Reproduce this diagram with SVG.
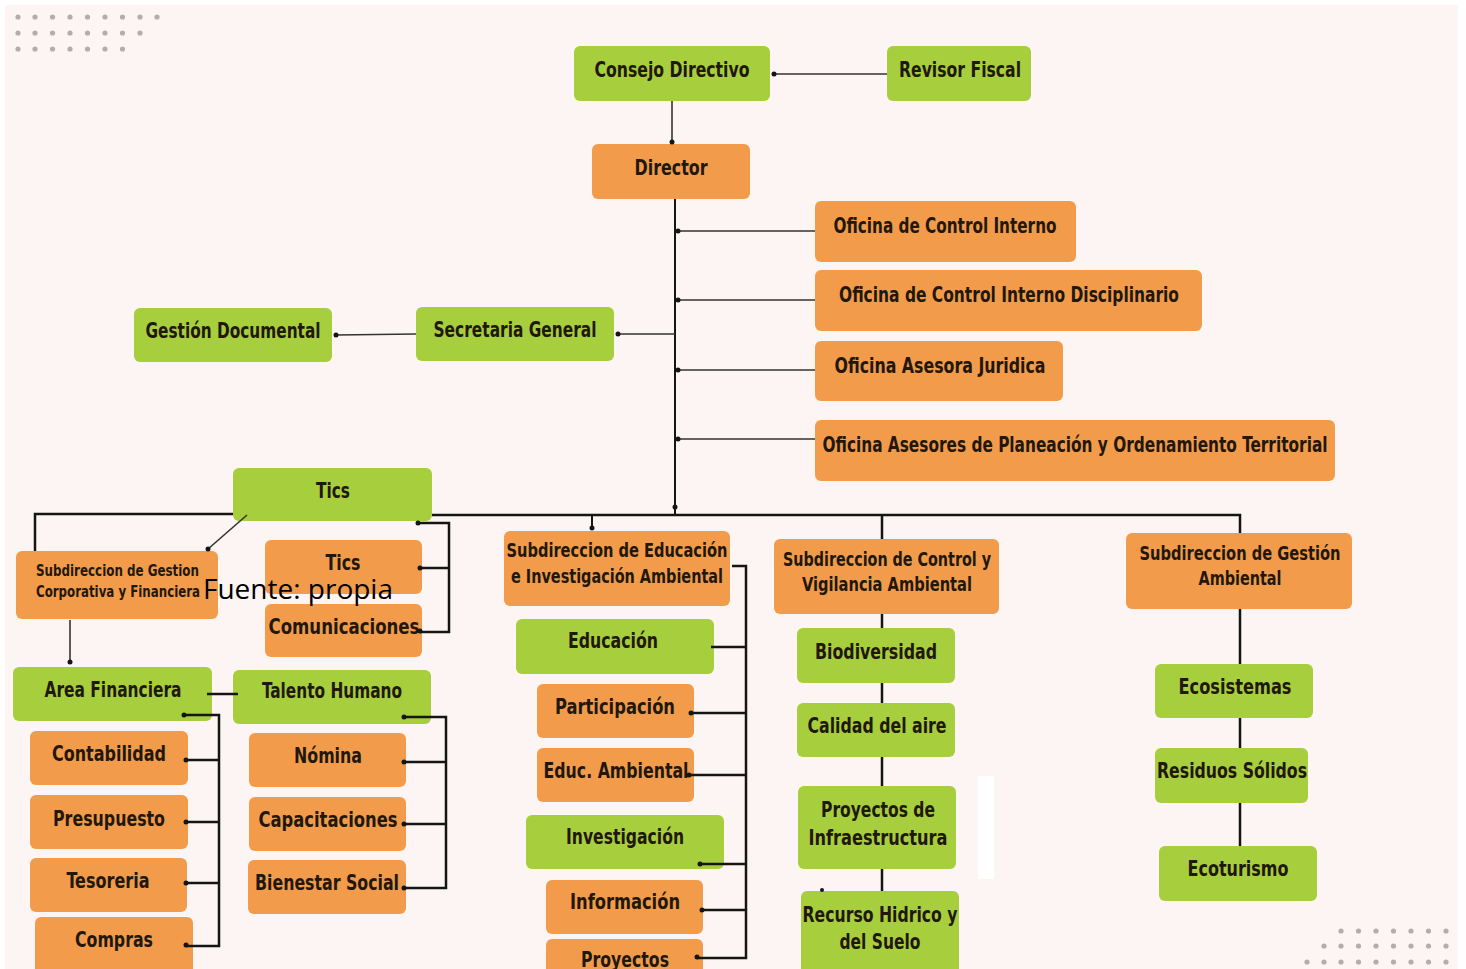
<svg xmlns="http://www.w3.org/2000/svg" width="1466" height="969" viewBox="0 0 1466 969">
<defs>
<style>
.g{fill:#a7cf3d}
.o{fill:#f29c4b}
.t{font-family:"Liberation Sans Narrow","DejaVu Sans Condensed","Roboto Condensed","Liberation Sans",sans-serif;font-weight:bold;font-size:22px;fill:#22170b;text-anchor:middle}
.s{font-size:19px}
.xs{font-size:15px;text-anchor:start}
.c{fill:none;stroke:#151515;stroke-width:2.5}
.ct{fill:none;stroke:#333;stroke-width:1.6}
.d{fill:#151515}
.dp{fill:#b5adad}
</style>
</defs>
<rect x="0" y="0" width="1466" height="969" fill="#ffffff"/>
<rect x="5" y="5" width="1453" height="964" fill="#fdf5f3"/>
<g id="dots-tl" class="dp">
<circle cx="18" cy="17" r="2.6"/><circle cx="35" cy="17" r="2.6"/><circle cx="52.5" cy="17" r="2.6"/><circle cx="70" cy="17" r="2.6"/><circle cx="87.5" cy="17" r="2.6"/><circle cx="105" cy="17" r="2.6"/><circle cx="122.5" cy="17" r="2.6"/><circle cx="140" cy="17" r="2.6"/><circle cx="157" cy="17" r="2.6"/>
<circle cx="18" cy="33" r="2.6"/><circle cx="35" cy="33" r="2.6"/><circle cx="52.5" cy="33" r="2.6"/><circle cx="70" cy="33" r="2.6"/><circle cx="87.5" cy="33" r="2.6"/><circle cx="105" cy="33" r="2.6"/><circle cx="122.5" cy="33" r="2.6"/><circle cx="140" cy="33" r="2.6"/>
<circle cx="18" cy="49" r="2.6"/><circle cx="35" cy="49" r="2.6"/><circle cx="52.5" cy="49" r="2.6"/><circle cx="70" cy="49" r="2.6"/><circle cx="87.5" cy="49" r="2.6"/><circle cx="105" cy="49" r="2.6"/><circle cx="122.5" cy="49" r="2.6"/>
</g>
<g id="dots-br" class="dp">
<circle cx="1341" cy="931" r="2.6"/><circle cx="1358.5" cy="931" r="2.6"/><circle cx="1376" cy="931" r="2.6"/><circle cx="1393.5" cy="931" r="2.6"/><circle cx="1411" cy="931" r="2.6"/><circle cx="1428.5" cy="931" r="2.6"/><circle cx="1446" cy="931" r="2.6"/>
<circle cx="1324" cy="946" r="2.6"/><circle cx="1341" cy="946" r="2.6"/><circle cx="1358.5" cy="946" r="2.6"/><circle cx="1376" cy="946" r="2.6"/><circle cx="1393.5" cy="946" r="2.6"/><circle cx="1411" cy="946" r="2.6"/><circle cx="1428.5" cy="946" r="2.6"/><circle cx="1446" cy="946" r="2.6"/>
<circle cx="1307" cy="962" r="2.6"/><circle cx="1324" cy="962" r="2.6"/><circle cx="1341" cy="962" r="2.6"/><circle cx="1358.5" cy="962" r="2.6"/><circle cx="1376" cy="962" r="2.6"/><circle cx="1393.5" cy="962" r="2.6"/><circle cx="1411" cy="962" r="2.6"/><circle cx="1428.5" cy="962" r="2.6"/><circle cx="1446" cy="962" r="2.6"/>
</g>
<rect x="978" y="776" width="16" height="103" fill="#ffffff"/>

<g id="n-consejo"><rect class="g" x="574" y="46" width="196" height="55" rx="6"/><text class="t" x="672" y="77" textLength="155" lengthAdjust="spacingAndGlyphs">Consejo Directivo</text></g>
<g id="n-revisor"><rect class="g" x="887" y="46" width="144" height="55" rx="6"/><text class="t" x="960" y="77" textLength="122" lengthAdjust="spacingAndGlyphs">Revisor Fiscal</text></g>
<g id="n-director"><rect class="o" x="592" y="144" width="158" height="55" rx="6"/><text class="t" x="671" y="175" textLength="73" lengthAdjust="spacingAndGlyphs">Director</text></g>
<g id="n-oci"><rect class="o" x="815" y="201" width="261" height="61" rx="6"/><text class="t" x="945" y="233" textLength="223" lengthAdjust="spacingAndGlyphs">Oficina de Control Interno</text></g>
<g id="n-ocid"><rect class="o" x="815" y="270" width="387" height="61" rx="6"/><text class="t" x="1009" y="302" textLength="340" lengthAdjust="spacingAndGlyphs">Oficina de Control Interno Disciplinario</text></g>
<g id="n-oaj"><rect class="o" x="815" y="341" width="248" height="60" rx="6"/><text class="t" x="940" y="373" textLength="211" lengthAdjust="spacingAndGlyphs">Oficina Asesora Juridica</text></g>
<g id="n-oap"><rect class="o" x="815" y="420" width="520" height="61" rx="6"/><text class="t" x="1075" y="452" textLength="505" lengthAdjust="spacingAndGlyphs">Oficina Asesores de Planeación y Ordenamiento Territorial</text></g>
<g id="n-secretaria"><rect class="g" x="416" y="307" width="198" height="54" rx="6"/><text class="t" x="515" y="337" textLength="163" lengthAdjust="spacingAndGlyphs">Secretaria General</text></g>
<g id="n-gestdoc"><rect class="g" x="134" y="308" width="198" height="54" rx="6"/><text class="t" x="233" y="338" textLength="175" lengthAdjust="spacingAndGlyphs">Gestión Documental</text></g>
<g id="n-tics-g"><rect class="g" x="233" y="468" width="199" height="53" rx="6"/><text class="t" x="333" y="498" textLength="34" lengthAdjust="spacingAndGlyphs">Tics</text></g>
<g id="n-subgcf"><rect class="o" x="16" y="551" width="202" height="68" rx="6"/><text class="t xs" x="36" y="576" textLength="163" lengthAdjust="spacingAndGlyphs">Subdireccion de Gestion</text><text class="t xs" x="36" y="597" textLength="164" lengthAdjust="spacingAndGlyphs">Corporativa y Financiera</text></g>
<g id="n-tics-o"><rect class="o" x="265" y="540" width="157" height="54" rx="6"/><text class="t" x="343" y="570" textLength="35" lengthAdjust="spacingAndGlyphs">Tics</text></g>
<g id="n-comunic"><rect class="o" x="265" y="604" width="157" height="53" rx="6"/><text class="t" x="344" y="634" textLength="151" lengthAdjust="spacingAndGlyphs">Comunicaciones</text></g>
<g id="n-areafin"><rect class="g" x="13" y="667" width="199" height="54" rx="6"/><text class="t" x="113" y="697" textLength="137" lengthAdjust="spacingAndGlyphs">Area Financiera</text></g>
<g id="n-talento"><rect class="g" x="233" y="670" width="198" height="54" rx="6"/><text class="t" x="332" y="698" textLength="140" lengthAdjust="spacingAndGlyphs">Talento Humano</text></g>
<g id="n-contab"><rect class="o" x="30" y="731" width="158" height="54" rx="6"/><text class="t" x="109" y="761" textLength="114" lengthAdjust="spacingAndGlyphs">Contabilidad</text></g>
<g id="n-presup"><rect class="o" x="30" y="795" width="158" height="54" rx="6"/><text class="t" x="109" y="826" textLength="112" lengthAdjust="spacingAndGlyphs">Presupuesto</text></g>
<g id="n-tesor"><rect class="o" x="30" y="858" width="157" height="54" rx="6"/><text class="t" x="108" y="888" textLength="83" lengthAdjust="spacingAndGlyphs">Tesoreria</text></g>
<g id="n-compras"><rect class="o" x="35" y="917" width="158" height="60" rx="6"/><text class="t" x="114" y="947" textLength="78" lengthAdjust="spacingAndGlyphs">Compras</text></g>
<g id="n-nomina"><rect class="o" x="249" y="733" width="157" height="54" rx="6"/><text class="t" x="328" y="763" textLength="68" lengthAdjust="spacingAndGlyphs">Nómina</text></g>
<g id="n-capac"><rect class="o" x="249" y="797" width="157" height="54" rx="6"/><text class="t" x="328" y="827" textLength="139" lengthAdjust="spacingAndGlyphs">Capacitaciones</text></g>
<g id="n-bienestar"><rect class="o" x="248" y="860" width="158" height="54" rx="6"/><text class="t" x="327" y="890" textLength="144" lengthAdjust="spacingAndGlyphs">Bienestar Social</text></g>
<g id="n-subedu"><rect class="o" x="504" y="531" width="226" height="75" rx="6"/><text class="t s" x="617" y="557" textLength="221" lengthAdjust="spacingAndGlyphs">Subdireccion de Educación</text><text class="t s" x="617" y="583" textLength="212" lengthAdjust="spacingAndGlyphs">e Investigación Ambiental</text></g>
<g id="n-educacion"><rect class="g" x="516" y="619" width="198" height="55" rx="6"/><text class="t" x="613" y="648" textLength="90" lengthAdjust="spacingAndGlyphs">Educación</text></g>
<g id="n-particip"><rect class="o" x="537" y="684" width="157" height="54" rx="6"/><text class="t" x="615" y="714" textLength="120" lengthAdjust="spacingAndGlyphs">Participación</text></g>
<g id="n-educamb"><rect class="o" x="537" y="748" width="157" height="54" rx="6"/><text class="t" x="616" y="778" textLength="145" lengthAdjust="spacingAndGlyphs">Educ. Ambiental</text></g>
<g id="n-investig"><rect class="g" x="526" y="815" width="198" height="54" rx="6"/><text class="t" x="625" y="844" textLength="118" lengthAdjust="spacingAndGlyphs">Investigación</text></g>
<g id="n-inform"><rect class="o" x="546" y="880" width="157" height="54" rx="6"/><text class="t" x="625" y="909" textLength="110" lengthAdjust="spacingAndGlyphs">Información</text></g>
<g id="n-proyectos"><rect class="o" x="546" y="939" width="157" height="40" rx="6"/><text class="t" x="625" y="967" textLength="88" lengthAdjust="spacingAndGlyphs">Proyectos</text></g>
<g id="n-subcontrol"><rect class="o" x="774" y="539" width="225" height="75" rx="6"/><text class="t s" x="887" y="566" textLength="208" lengthAdjust="spacingAndGlyphs">Subdireccion de Control y</text><text class="t s" x="887" y="591" textLength="170" lengthAdjust="spacingAndGlyphs">Vigilancia Ambiental</text></g>
<g id="n-biodiv"><rect class="g" x="797" y="628" width="158" height="55" rx="6"/><text class="t" x="876" y="659" textLength="122" lengthAdjust="spacingAndGlyphs">Biodiversidad</text></g>
<g id="n-calidad"><rect class="g" x="797" y="703" width="158" height="54" rx="6"/><text class="t" x="877" y="733" textLength="139" lengthAdjust="spacingAndGlyphs">Calidad del aire</text></g>
<g id="n-proyinfra"><rect class="g" x="798" y="786" width="158" height="83" rx="6"/><text class="t" x="878" y="817" textLength="114" lengthAdjust="spacingAndGlyphs">Proyectos de</text><text class="t" x="878" y="845" textLength="139" lengthAdjust="spacingAndGlyphs">Infraestructura</text></g>
<g id="n-recurso"><rect class="g" x="801" y="891" width="158" height="88" rx="6"/><text class="t" x="880" y="922" textLength="155" lengthAdjust="spacingAndGlyphs">Recurso Hidrico y</text><text class="t" x="880" y="949" textLength="81" lengthAdjust="spacingAndGlyphs">del Suelo</text></g>
<g id="n-subgestamb"><rect class="o" x="1126" y="533" width="226" height="76" rx="6"/><text class="t s" x="1240" y="560" textLength="201" lengthAdjust="spacingAndGlyphs">Subdireccion de  Gestión</text><text class="t s" x="1240" y="585" textLength="83" lengthAdjust="spacingAndGlyphs">Ambiental</text></g>
<g id="n-ecosis"><rect class="g" x="1155" y="664" width="158" height="54" rx="6"/><text class="t" x="1235" y="694" textLength="113" lengthAdjust="spacingAndGlyphs">Ecosistemas</text></g>
<g id="n-residuos"><rect class="g" x="1155" y="748" width="153" height="55" rx="6"/><text class="t" x="1232" y="778" textLength="150" lengthAdjust="spacingAndGlyphs">Residuos Sólidos</text></g>
<g id="n-ecotur"><rect class="g" x="1159" y="846" width="158" height="55" rx="6"/><text class="t" x="1238" y="876" textLength="101" lengthAdjust="spacingAndGlyphs">Ecoturismo</text></g>

<g id="connectors">
<path class="ct" d="M772,74 H887"/>
<path class="ct" d="M672,101 V142"/>
<path class="c" style="stroke-width:2" d="M675,199 V515"/>
<path class="ct" d="M678,231 H815 M678,300 H815 M678,370 H815 M678,439 H815"/>
<path class="ct" d="M618,334 H675"/>
<path class="ct" d="M336,335 L416,334"/>
<path class="c" d="M35,551 V514 H233 M432,515 H1240 V533"/>
<path class="c" style="stroke-width:2" d="M592,515 V529"/>
<path class="c" d="M882,515 V539 M882,614 V628 M882,683 V703 M882,757 V786 M882,869 V891"/>
<path class="c" d="M1240,609 V664 M1240,718 V748 M1240,803 V846"/>
<path class="ct" d="M247,515 L208,549"/>
<path class="c" d="M418,523 H449 V632 H420 M420,568 H449"/>
<path class="ct" d="M70,620 V662"/>
<path class="c" d="M207,694 H238"/>
<path class="c" d="M183,715 H219 V946 H186 M186,760 H219 M186,822 H219 M186,883 H219"/>
<path class="c" d="M403,717 H446 V888 H403 M403,762 H446 M403,824 H446"/>
<path class="c" d="M732,566 H746 V958 H697 M711,647 H746 M692,713 H746 M690,775 H746 M700,864 H746 M702,910 H746"/>
<g class="d">
<circle cx="774" cy="74" r="2.5"/><circle cx="672" cy="142" r="2.5"/><circle cx="675" cy="507" r="2.5"/>
<circle cx="678" cy="231" r="2.5"/><circle cx="678" cy="300" r="2.5"/><circle cx="678" cy="370" r="2.5"/><circle cx="678" cy="439" r="2.5"/>
<circle cx="618" cy="334" r="2.5"/><circle cx="336" cy="335" r="2.5"/><circle cx="592" cy="528" r="2.5"/>
<circle cx="208" cy="549" r="2.5"/><circle cx="418" cy="523" r="2.5"/><circle cx="420" cy="568" r="2.5"/><circle cx="420" cy="631" r="2.5"/>
<circle cx="70" cy="662" r="2.5"/>
<circle cx="184" cy="715" r="2.5"/><circle cx="186" cy="760" r="2.5"/><circle cx="186" cy="822" r="2.5"/><circle cx="186" cy="883" r="2.5"/><circle cx="186" cy="945" r="2.5"/>
<circle cx="404" cy="717" r="2.5"/><circle cx="404" cy="762" r="2.5"/><circle cx="404" cy="824" r="2.5"/><circle cx="404" cy="888" r="2.5"/>
<circle cx="691" cy="713" r="2.5"/><circle cx="689" cy="775" r="2.5"/><circle cx="700" cy="864" r="2.5"/><circle cx="702" cy="910" r="2.5"/><circle cx="697" cy="957" r="2.5"/>
<circle cx="822" cy="890" r="2"/>
</g>
</g>
<text x="203" y="599" font-family="Open Sans,Noto Sans,sans-serif" font-size="27" fill="#000" textLength="190" lengthAdjust="spacingAndGlyphs">Fuente: propia</text>
</svg>
